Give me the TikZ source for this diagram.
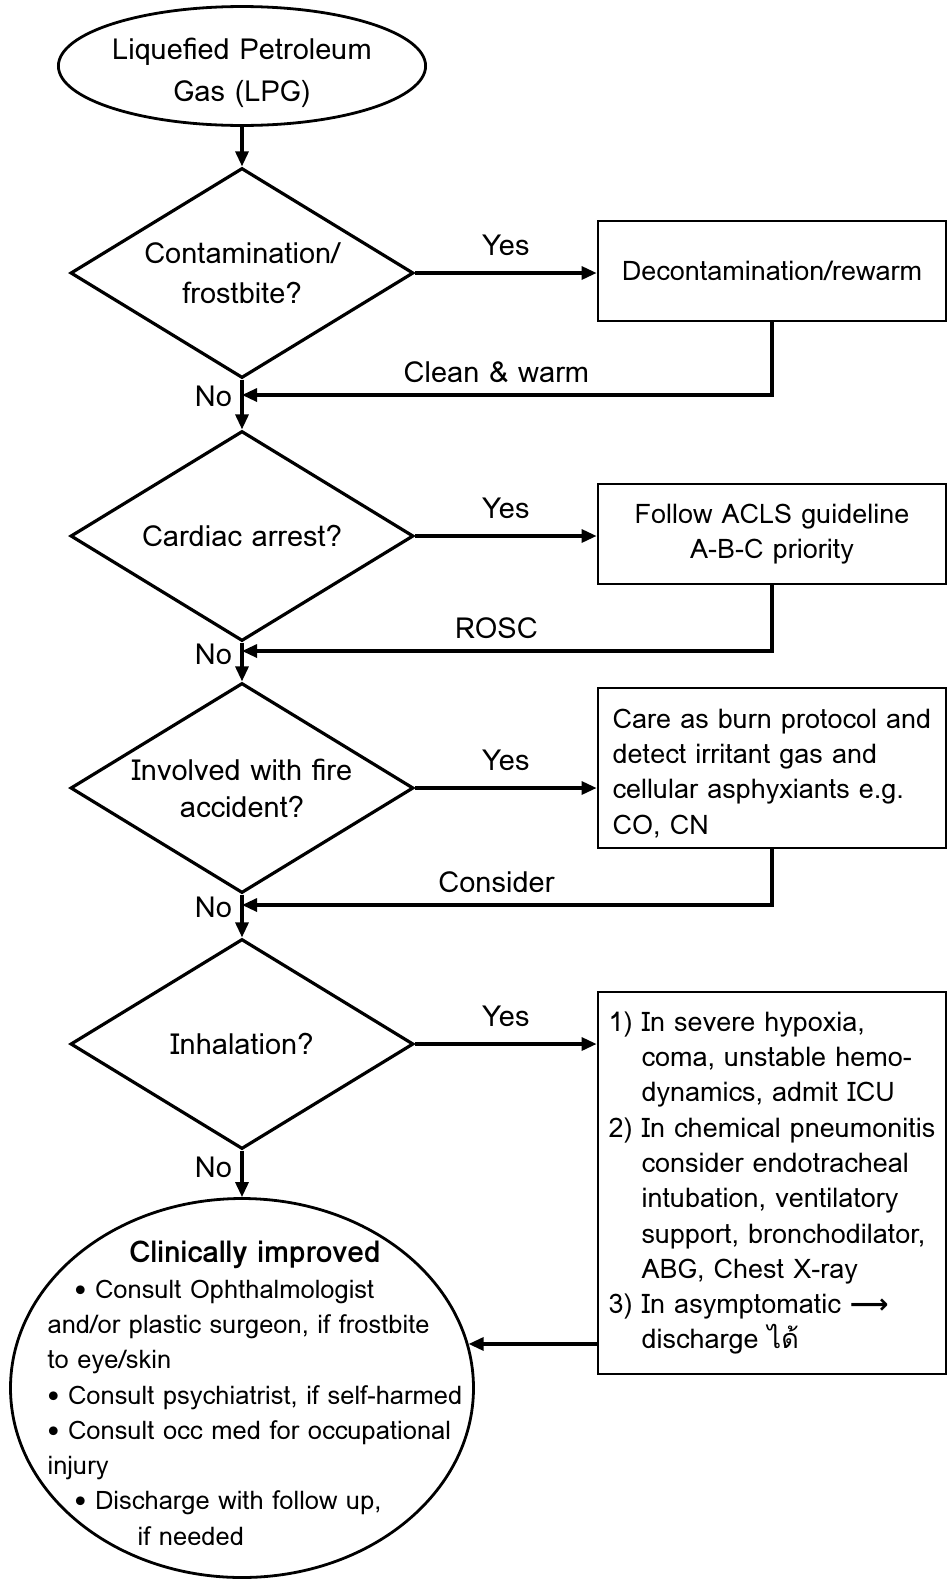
\documentclass[tikz,border=0pt]{standalone}
\usepackage{fontspec}
\setmainfont{Loma}
\newfontfamily\thaifont[Script=Thai]{Loma}
\newfontfamily\arrowfont{DejaVu Sans}
\usetikzlibrary{positioning, calc, shapes.geometric, arrows.meta}
\tikzset{Flow/.style={line width=3.2pt, -{Triangle[length=15pt, width=13pt]}}}

\begin{document}
\begin{tikzpicture}[x=1pt, y=-1pt,
			every node/.style={font=\fontsize{29}{40}\selectfont},
			terminal/.style={ellipse, draw, line width=2.8pt, inner sep=0pt, align=center},
			decision/.style={diamond, draw, line width=3.2pt, minimum width=343pt, minimum height=210pt, inner sep=0pt, aspect=1.63, align=center},
			process/.style={rectangle, draw, line width=2.8pt, minimum width=348pt, inner sep=0pt, align=center, font=\fontsize{27}{35.3}\selectfont},
			yeslabel/.style={above, yshift=12pt},
			looplabel/.style={above, yshift=7pt},
			nolabel/.style={left, xshift=-5pt},
		]
		\useasboundingbox (0,0) rectangle (949,1580);

		\node[terminal, minimum width=349pt, minimum height=116pt, font=\fontsize{29}{42}\selectfont] (LPG) at (242,66) {\rule{0pt}{36pt}Liquefied Petroleum\\Gas (LPG)};

		\node[decision] (Contam) at (242,273) {Contamination/\\frostbite?};
		\node[process, minimum height=100pt] (Decon) at (772,271) {Decontamination/rewarm};
		\node[decision] (Arrest) at (242,536) {Cardiac arrest?};
		\node[process, minimum height=100pt] (ACLS) at (772,534) {Follow ACLS guideline\\A-B-C priority};
		\node[decision, font=\fontsize{29}{37}\selectfont] (Fire) at (242,788) {Involved with fire\\accident?};
		\node[process, minimum height=160pt, align=left] (Burn) at (772,768) {\rule{0pt}{30pt}Care as burn protocol and\\detect irritant gas and\\cellular asphyxiants e.g.\\CO, CN};
		\node[decision] (Inhal) at (242,1044) {Inhalation?};
		\node[process, minimum height=382pt] (Resp) at (772,1183) {\begin{tabular}{@{}l@{\ }l@{}}
				1) & In severe hypoxia,\\
				   & coma, unstable hemo-\\
				   & dynamics, admit ICU\\
				2) & In chemical pneumonitis\\
				   & consider endotracheal\\
				   & intubation, ventilatory\\
				   & support, bronchodilator,\\
				   & ABG, Chest X-ray\\
				3) & In asymptomatic {\arrowfont\bfseries ⟶}\\
				   & discharge {\thaifont ได้}
			\end{tabular}};

		\node[terminal, minimum width=463pt, minimum height=379pt] (Improved) at (242,1388) {};
		\node[anchor=west, font=\fontsize{25.5}{35.3}\selectfont] (ImprovedText) at ($(Improved.west)+(35,9)$) {\begin{tabular}{@{}l@{}}
				\multicolumn{1}{@{}c@{}}{\fontsize{30}{35.3}\selectfont\textbf{Clinically improved}}\\
				\hspace*{27pt}• Consult Ophthalmologist\\
				and/or plastic surgeon, if frostbite\\
				to eye/skin\\
				• Consult psychiatrist, if self-harmed\\
				• Consult occ med for occupational\\
				injury\\
				\hspace*{27pt}• Discharge with follow up,\\
				\hspace*{90pt}if needed
			\end{tabular}};

		\coordinate (J1) at (242,395);
		\coordinate (J2) at (242,651);
		\coordinate (J3) at (242,905);

		% main line
		\draw[Flow] (LPG) -- (Contam);
		\draw[Flow] (Contam) -- node[nolabel, pos=0.33] {No} (Arrest);
		\draw[Flow] (Arrest) -- node[nolabel, pos=0.3] {No} (Fire);
		\draw[Flow] (Fire) -- node[nolabel, pos=0.3] {No} (Inhal);
		\draw[Flow] (Inhal) -- node[nolabel, pos=0.35] {No} (Improved);

		% yes branches
		\draw[Flow] (Contam.east) -- node[yeslabel] {Yes} (Decon.west |- Contam.east);
		\draw[Flow] (Arrest.east) -- node[yeslabel] {Yes} (ACLS.west |- Arrest.east);
		\draw[Flow] (Fire.east) -- node[yeslabel] {Yes} (Burn.west |- Fire.east);
		\draw[Flow] (Inhal.east) -- node[yeslabel] {Yes} (Resp.west |- Inhal.east);

		% back to main line
		\draw[Flow] (Decon.south) |- node[pos=0.76, looplabel] {Clean \& warm} (J1);
		\draw[Flow] (ACLS.south) |- node[pos=0.76, looplabel] {ROSC} (J2);
		\draw[Flow] (Burn.south) |- node[pos=0.76, looplabel] {Consider} (J3);
		\draw[Flow] (Resp.west |- Improved.11) -- (Improved.11);
	\end{tikzpicture}
\end{document}
